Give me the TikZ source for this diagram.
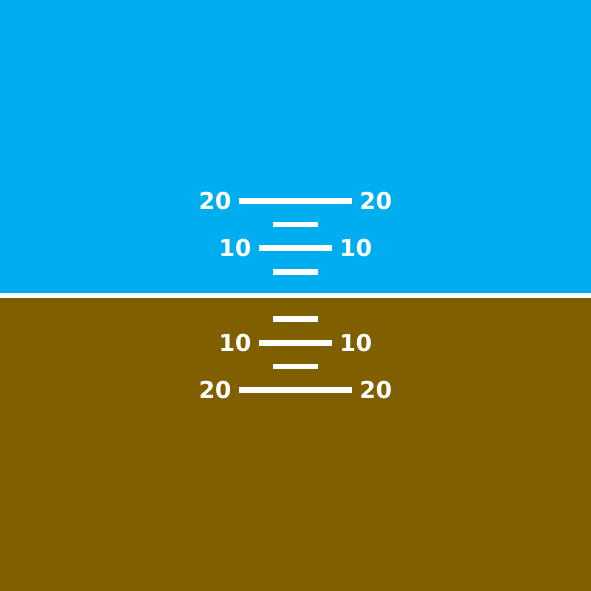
\documentclass[tikz,border=0pt]{standalone}
\usepackage{fontspec}
\setsansfont{DejaVu Sans}
\usetikzlibrary{positioning}
\definecolor{skyblue}{RGB}{0,174,239}
\definecolor{ground}{RGB}{127,95,0}

\begin{document}
\begin{tikzpicture}[x=0.01cm, y=0.01cm,
    pitchline/.style = {draw=white, line width=0.057cm},
    horizon/.style = {draw=white, line width=0.046cm},
    pitchlabel/.style = {text=white, inner sep=0pt, font=\sffamily\bfseries\fontsize{6.63}{8}\selectfont}
]

\useasboundingbox (0,0) rectangle (591,591);
\fill[skyblue] (0,295.5) rectangle (591,591);
\fill[ground] (0,0) rectangle (591,295.5);

\coordinate (west) at (0,295.5);
\coordinate (east) at (591,295.5);
\draw [horizon] (west) -- (east);

% long marks with labels
\foreach \n/\p/\w in {u20/20/56.5, u10/10/36.5, d10/-10/36.5, d20/-20/56.5} {
    \coordinate (l\n) at (295.5-\w, 295.5+4.725*\p);
    \coordinate (r\n) at (295.5+\w, 295.5+4.725*\p);
    \draw [pitchline] (l\n) -- (r\n);
    \node (tl\n) [pitchlabel, left=0.07cm of l\n] {\ifnum\p<0 \number-\p\else\p\fi};
    \node (tr\n) [pitchlabel, right=0.07cm of r\n] {\ifnum\p<0 \number-\p\else\p\fi};
}

% short marks
\foreach \n/\p in {u15/15, u5/5, d5/-5, d15/-15} {
    \coordinate (l\n) at (295.5-22.7, 295.5+4.725*\p);
    \coordinate (r\n) at (295.5+22.7, 295.5+4.725*\p);
    \draw [pitchline] (l\n) -- (r\n);
}

\end{tikzpicture}
\end{document}
